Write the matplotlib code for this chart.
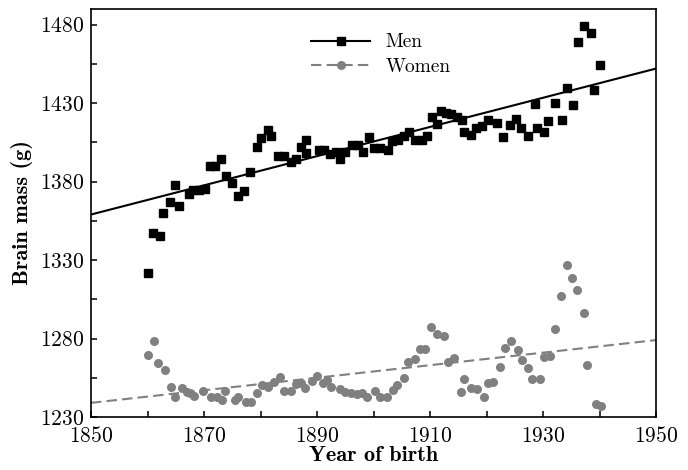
import matplotlib
matplotlib.use("Agg")
import matplotlib.pyplot as plt
import numpy as np

plt.rcParams['font.family'] = 'cmr10'
plt.rcParams['axes.formatter.use_mathtext'] = True

# Men
men_year = [1860.0, 1860.9, 1862.2, 1862.7, 1863.9, 1864.9, 1865.5, 1867.4, 1868.1, 1869.2,
            1870.2, 1871.1, 1872.0, 1873.0, 1873.9, 1875.0, 1876.0, 1877.1, 1878.2, 1879.3,
            1880.1, 1881.3, 1881.9, 1883.1, 1884.1, 1885.4, 1886.2, 1887.1, 1888.0, 1888.1,
            1890.3, 1891.2, 1892.3, 1893.3, 1894.1, 1895.0, 1896.2, 1897.2, 1898.1, 1899.2,
            1900.1, 1901.2, 1902.5, 1903.3, 1904.3, 1905.4, 1906.3, 1907.3, 1908.5, 1909.4,
            1910.3, 1911.2, 1911.9, 1912.9, 1913.8, 1914.8, 1915.6, 1916.1, 1917.2, 1918.2,
            1919.2, 1920.3, 1921.9, 1923.0, 1924.2, 1925.2, 1926.1, 1927.4, 1928.5, 1928.9,
            1930.1, 1930.8, 1932.1, 1933.3, 1934.3, 1935.3, 1936.2, 1937.3, 1938.5, 1939.1,
            1940.1]
men_mass = [1322, 1347, 1345.5, 1360, 1367, 1377.5, 1364.6, 1372.2, 1374.8, 1374.8,
            1375.4, 1390, 1390, 1394.5, 1383.3, 1379, 1370.5, 1374.3, 1386, 1401.8,
            1407.7, 1413, 1409.2, 1396, 1396, 1392.2, 1394.3, 1401.8, 1406.5, 1398.4,
            1400.3, 1400.3, 1397.7, 1398.6, 1394.3, 1399, 1403.5, 1403.5, 1398.6, 1408.3,
            1401.4, 1401.4, 1400, 1405.6, 1406.2, 1408.8, 1411.3, 1406.2, 1406.2, 1409.2,
            1421.1, 1416.9, 1424.7, 1424, 1423.2, 1421.1, 1419, 1411.3, 1409.8, 1414,
            1415.3, 1419.4, 1417.3, 1408.2, 1416.2, 1420, 1414, 1409.2, 1429.6, 1414,
            1411.5, 1418.9, 1429.8, 1419, 1439.6, 1429, 1468.8, 1479.4, 1474.7, 1438.1,
            1454.2]

# Women
women_year = [1860.0, 1861.2, 1861.9, 1863.1, 1864.1, 1864.9, 1866.1, 1867.0, 1867.6, 1868.3,
              1869.8, 1871.3, 1872.3, 1873.2, 1873.8, 1875.4, 1876.1, 1877.5, 1878.4, 1879.4,
              1880.3, 1881.4, 1882.3, 1883.4, 1884.1, 1885.4, 1886.3, 1887.1, 1887.8, 1889.1,
              1890.0, 1891.1, 1891.7, 1892.5, 1894.0, 1895.0, 1896.0, 1897.1, 1898.0, 1898.9,
              1900.2, 1901.1, 1902.3, 1903.5, 1904.2, 1905.4, 1906.1, 1907.3, 1908.2, 1909.2,
              1910.1, 1911.2, 1912.5, 1913.1, 1914.2, 1915.4, 1916.1, 1917.2, 1918.4, 1919.5,
              1920.3, 1921.2, 1922.3, 1923.2, 1924.4, 1925.5, 1926.2, 1927.4, 1928.0, 1929.4,
              1930.2, 1931.3, 1932.1, 1933.2, 1934.2, 1935.2, 1936.1, 1937.2, 1937.8, 1939.4,
              1940.2]
women_mass = [1269.5, 1278.5, 1264.2, 1260, 1249, 1242.6, 1248.7, 1246.1, 1245.5, 1243.4,
              1246.6, 1242.6, 1242.6, 1240.8, 1246.6, 1240.8, 1242.6, 1239.8, 1239.8, 1245.1,
              1250.4, 1249.3, 1252.5, 1255.7, 1246.6, 1246.6, 1251, 1251.9, 1248.3, 1253.2,
              1256.1, 1251.9, 1253.6, 1248.9, 1247.7, 1246.1, 1245.1, 1244.5, 1245.1, 1243,
              1246.8, 1242.6, 1243, 1247.2, 1250.4, 1254.7, 1265.3, 1266.8, 1273.2, 1273.2,
              1287.6, 1282.9, 1281.7, 1265.3, 1267.4, 1246.1, 1254.4, 1248.3, 1247.7, 1243,
              1251.9, 1252.5, 1262.1, 1274.2, 1278.7, 1272.7, 1266.4, 1261.1, 1254, 1254,
              1268.1, 1268.9, 1286.1, 1307.2, 1326.9, 1318.8, 1311, 1296.5, 1263.2, 1238.1,
              1237]

# Linear trend lines (end points)
fit_year = [1850, 1950]
men_fit = [1359, 1452]
women_fit = [1239, 1279]

grey = '#808080'

fig = plt.figure(figsize=(6.88, 4.70), dpi=100)
ax = fig.add_axes([0.1323, 0.1128, 0.8212, 0.8682])

ax.plot(fit_year, men_fit, color='black', lw=1.5, zorder=2)
ax.plot(fit_year, women_fit, color=grey, lw=1.5, ls=(0, (5, 2.5)), zorder=2)
ax.plot(men_year, men_mass, 's', color='black', ms=6, zorder=3)
ax.plot(women_year, women_mass, 'o', color=grey, ms=6.5, mec='none', zorder=3)

# legend handles
ax.plot([], [], color='black', lw=1.5, marker='s', ms=6, label='Men')
ax.plot([], [], color=grey, lw=1.5, ls=(0, (5, 2.5)), marker='o', ms=6.5, mec='none', label='Women')
h, l = ax.get_legend_handles_labels()
ax.legend(h, l, loc='upper left', bbox_to_anchor=(0.39, 0.94), frameon=False,
          fontsize=14, handlelength=3.0, handletextpad=0.8, labelspacing=0.35,
          borderpad=0, borderaxespad=0)

ax.set_xlim(1850, 1950)
ax.set_ylim(1230, 1490)
ax.set_xticks(np.arange(1850, 1951, 20))
ax.set_xticks(np.arange(1860, 1950, 20), minor=True)
ax.set_yticks(np.arange(1230, 1481, 50))
ax.set_yticks(np.arange(1255, 1490, 50), minor=True)
ax.tick_params(which='both', direction='in', length=4, width=1.1, labelsize=15.5,
               top=False, right=False)
ax.tick_params(axis='x', pad=6.5)
ax.tick_params(axis='y', pad=5)
for s in ax.spines.values():
    s.set_linewidth(1.2)

ax.set_xlabel('Year of birth', fontfamily='cmb10', fontsize=16, labelpad=0)
ax.set_ylabel('Brain mass (g)', fontfamily='cmb10', fontsize=16, labelpad=5)

fig.savefig('out.png', dpi=100)
